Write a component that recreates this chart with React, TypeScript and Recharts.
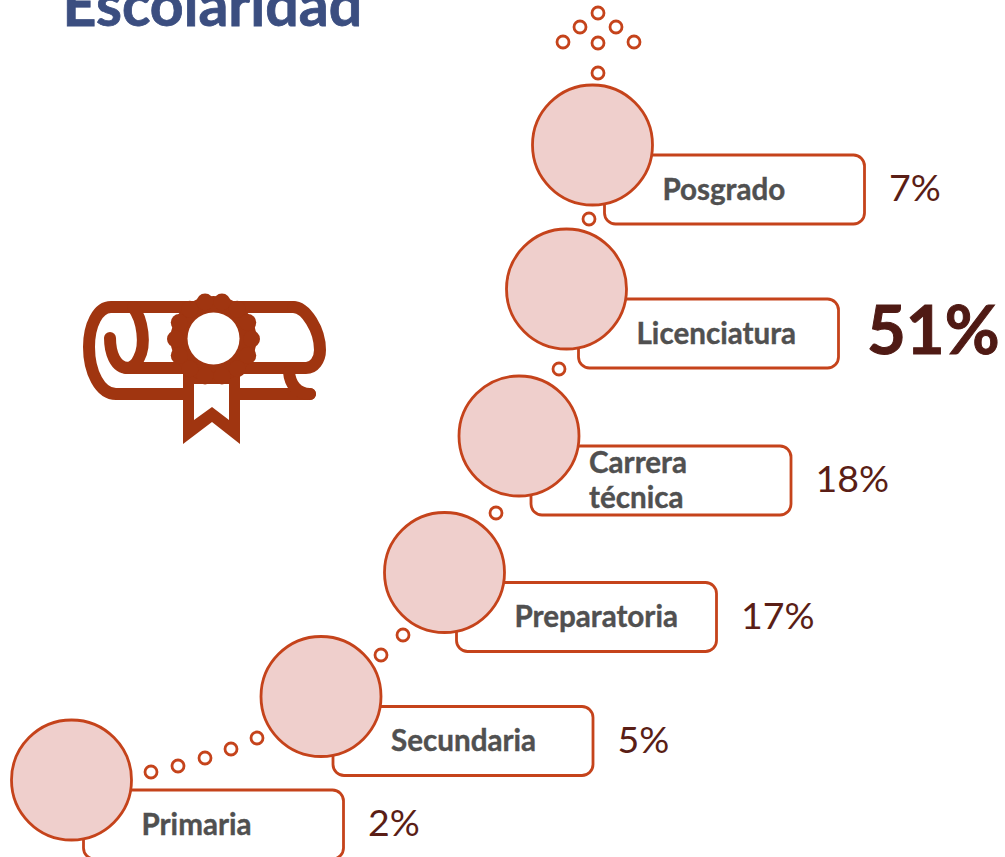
import { Scatter, ScatterChart, XAxis, YAxis } from "recharts";

const levels = ["Primaria", "Secundaria", "Preparatoria", "Carrera\ntécnica", "Licenciatura", "Posgrado"];
const shares = [2, 5, 17, 18, 51, 7];
// where each step of the ladder sits, in chart units
const stepX = [71.5, 321, 444.5, 519, 566.5, 592.5];
const stepY = [780, 696.5, 572.5, 436, 289, 145];

const trailX = [151, 178, 205, 231, 257, 381, 403, 496, 559, 589, 598, 563, 598, 634, 580, 616, 598];
const trailY = [772, 766, 758, 749, 738, 655, 635, 513, 369, 219, 73, 42, 43, 42, 27, 27, 13];

const steps = levels.map((level, i) => ({ level, share: shares[i], x: stepX[i], y: stepY[i] }));
const trail = trailX.map((x, i) => ({ x, y: trailY[i] }));

const ORANGE = "#C5431B";
const RUST = "#A03510";
const topShare = Math.max(...shares);

const BoxShape = ({ cx, cy, payload }: any) => {
  const lines: string[] = payload.level.split("\n");
  const isTop = payload.share === topShare;
  const left = cx + 12;
  const width = 260;
  return (
    <g>
      <rect x={left} y={cy + 10} width={width} height={69} rx={11} fill="#fff" stroke={ORANGE} strokeWidth={2.8} />
      {lines.map((line, i) => (
        <text
          key={line}
          x={cx + 70}
          y={lines.length > 1 ? cy + 36.5 + i * 35 : cy + 54.5}
          fontFamily="Lato, sans-serif"
          fontWeight={700}
          fontSize={29.6}
          fill="#505050"
          stroke="#505050"
          strokeWidth={0.4}
        >
          {line}
        </text>
      ))}
      <text
        x={left + width + (isTop ? 28.5 : 24.5)}
        y={cy + (isTop ? 65 : 56)}
        fontFamily="Lato, sans-serif"
        fontWeight={isTop ? 700 : 400}
        fontSize={isTop ? 67 : 37.5}
        fill={isTop ? "#4F1A14" : "#5A1E16"}
        stroke={isTop ? "#4F1A14" : "none"}
        strokeWidth={isTop ? 1 : 0}
      >
        {payload.share}%
      </text>
    </g>
  );
};

const CircleShape = ({ cx, cy }: any) => (
  <circle cx={cx} cy={cy} r={60} fill="#EFCFCC" stroke={ORANGE} strokeWidth={2.8} />
);

const TrailShape = ({ cx, cy }: any) => (
  <circle cx={cx} cy={cy} r={6} fill="#fff" stroke={ORANGE} strokeWidth={2.8} />
);

function DiplomaIcon() {
  const scallops = Array.from({ length: 14 }, (_, i) => (i * Math.PI) / 7);
  return (
    <g>
      <g fill="none" stroke={RUST} strokeWidth={12} strokeLinecap="round">
        <path d="M293 307 H111 C98 307 89 325 89 347 C89 372 100 394 116 394 H310" />
        <path d="M293 307 C306 307 320 330 320 350 C320 360 314 368 306 368 H128 C115 368 110 352 110 338" />
        <path d="M133 307 C143 320 146 345 139 358 C136 365 131 368 126 368" />
        <path d="M289 372 C290 384 297 394 310 394" />
      </g>
      <polygon points="183,373 183,444 212,422 240,444 240,373" fill={RUST} />
      <polygon points="194,384 194,420 212,407 229,420 229,384" fill="#fff" />
      <circle cx={213.5} cy={339} r={43} fill={RUST} />
      {scallops.map((a) => (
        <circle key={a} cx={213.5 + 38 * Math.cos(a)} cy={339 + 38 * Math.sin(a)} r={8.5} fill={RUST} />
      ))}
      <circle cx={213.5} cy={338.5} r={26} fill="#fff" />
    </g>
  );
}

export default function App() {
  return (
    <div style={{ position: "absolute", left: 0, top: 0, width: 1005, height: 857, background: "#fff", overflow: "hidden" }}>
      <ScatterChart width={1005} height={857} margin={{ top: 0, right: 0, bottom: 0, left: 0 }}>
        <XAxis type="number" dataKey="x" domain={[0, 1005]} hide />
        <YAxis type="number" dataKey="y" domain={[0, 857]} reversed hide />
        <text
          x={62.5}
          y={26}
          fontFamily="Lato, sans-serif"
          fontWeight={700}
          fontSize={59}
          fill="#3B4E80"
          stroke="#3B4E80"
          strokeWidth={0.8}
        >
          Escolaridad
        </text>
        <DiplomaIcon />
        <Scatter data={trail} isAnimationActive={false} shape={TrailShape} />
        <Scatter data={steps} isAnimationActive={false} shape={BoxShape} />
        <Scatter data={steps} isAnimationActive={false} shape={CircleShape} />
      </ScatterChart>
    </div>
  );
}
